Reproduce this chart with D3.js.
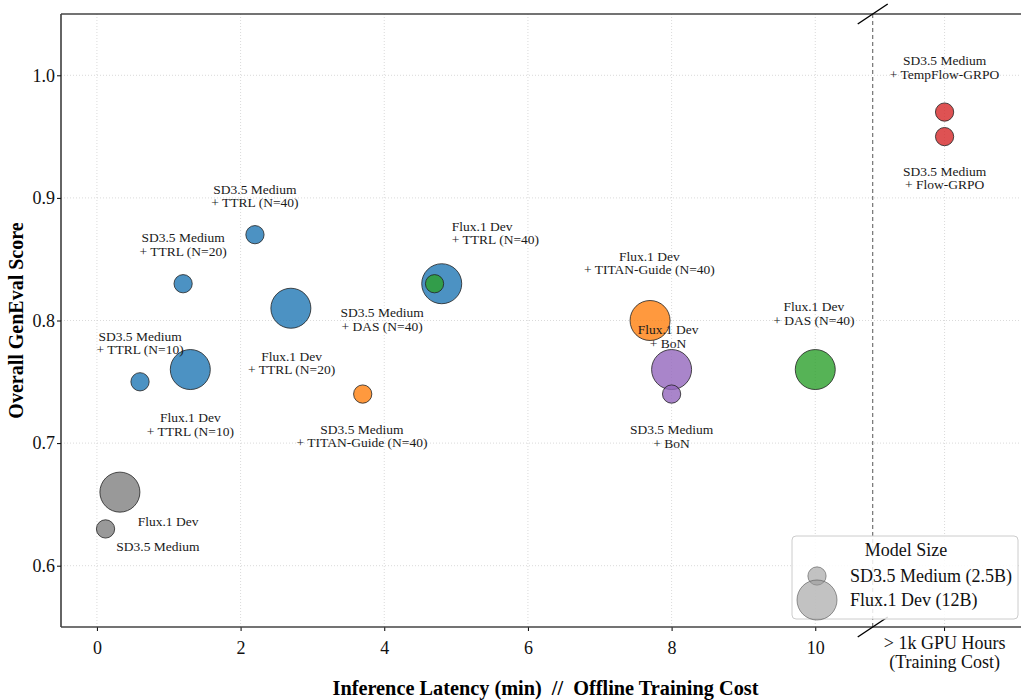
<!DOCTYPE html>
<html>
<head>
<meta charset="utf-8">
<script src="https://cdn.jsdelivr.net/npm/d3@7"></script>
<style>
  body { margin: 0; background: #fff; }
  text { font-family: "Liberation Serif", "DejaVu Serif", serif; }
</style>
</head>
<body>
<div id="chart"></div>
<script>
// Data
const modelNames = ["SD3.5 Medium", "Flux.1 Dev"];
const modelParams = [2.5, 12];            // billions of params -> bubble area
const methodNames = ["base", "ttrl", "titan", "bon", "das", "grpo"];
const methodColors = ["#7f7f7f", "#1f77b4", "#ff7f0e", "#9467bd", "#2ca02c", "#d62728"];

// one entry per bubble, drawn in this order
const pointModel  = [0, 1, 0, 1, 0, 1, 0, 1, 0, 1, 1, 0, 1, 0, 0, 0];
const pointMethod = ["base", "base", "ttrl", "ttrl", "ttrl", "ttrl", "ttrl", "ttrl",
                     "titan", "titan", "bon", "bon", "das", "das", "grpo", "grpo"];
const pointX = [0.12, 0.32, 0.6, 1.3, 1.2, 2.7, 2.2, 4.8, 3.7, 7.7, 8.0, 8.0, 10.0, 4.7, 11.8, 11.8];
const pointY = [0.63, 0.66, 0.75, 0.76, 0.83, 0.81, 0.87, 0.83, 0.74, 0.80, 0.76, 0.74, 0.76, 0.83, 0.97, 0.95];
const pointText = [
  "SD3.5 Medium", "Flux.1 Dev",
  "SD3.5 Medium\n+ TTRL (N=10)", "Flux.1 Dev\n+ TTRL (N=10)",
  "SD3.5 Medium\n+ TTRL (N=20)", "Flux.1 Dev\n+ TTRL (N=20)",
  "SD3.5 Medium\n+ TTRL (N=40)", "Flux.1 Dev\n+ TTRL (N=40)",
  "SD3.5 Medium\n+ TITAN-Guide (N=40)", "Flux.1 Dev\n+ TITAN-Guide (N=40)",
  "Flux.1 Dev\n+ BoN", "SD3.5 Medium\n+ BoN",
  "Flux.1 Dev\n+ DAS (N=40)", "SD3.5 Medium\n+ DAS (N=40)",
  "SD3.5 Medium\n+ TempFlow-GRPO", "SD3.5 Medium\n+ Flow-GRPO"
];

// annotation placement (data coords, like matplotlib annotate)
const labelX = [0.85, 0.99, 0.6, 1.3, 1.2, 2.71, 2.2, 4.94, 3.69, 7.69, 7.95, 8.0, 9.98, 3.97, 11.8, 11.8];
const labelY = [0.616, 0.636, 0.782, 0.7155, 0.862, 0.7655, 0.9016, 0.8714, 0.706, 0.847, 0.787, 0.7056, 0.806, 0.8008, 1.0065, 0.9163];
const labelAnchor = ["middle", "middle", "middle", "middle", "middle", "middle", "middle", "start",
                     "middle", "middle", "middle", "middle", "middle", "middle", "middle", "middle"];

const xTicks = [0, 2, 4, 6, 8, 10];
const trainingX = 11.8;
const trainingLabel = ["> 1k GPU Hours", "(Training Cost)"];
const breakX = 10.8;
const yTicks = [0.6, 0.7, 0.8, 0.9, 1.0];

const W = 1021, H = 700;
const plot = {left: 61, right: 1020, top: 14, bottom: 627};

const svg = d3.select("#chart").append("svg")
  .attr("width", W).attr("height", H);

const xScale = d3.scaleLinear().domain([-0.5, 12.85]).range([plot.left, plot.right]);
const yScale = d3.scaleLinear().domain([0.55, 1.05]).range([plot.bottom, plot.top]);
const rScale = d3.scaleSqrt().domain([0, 12]).range([0, 20]);
const cScale = d3.scaleOrdinal().domain(methodNames).range(methodColors);

// grid
const grid = svg.append("g").attr("stroke", "#d0d0d0").attr("stroke-width", 0.8)
  .attr("stroke-dasharray", "1,2");
grid.selectAll("line.gx").data(xTicks.concat([trainingX])).join("line")
  .attr("x1", d => xScale(d)).attr("x2", d => xScale(d))
  .attr("y1", plot.top).attr("y2", plot.bottom);
grid.selectAll("line.gy").data(yTicks).join("line").attr("class", "gy")
  .attr("x1", plot.left).attr("x2", plot.right)
  .attr("y1", d => yScale(d)).attr("y2", d => yScale(d));

// dashed separator between latency and training cost
svg.append("line")
  .attr("x1", xScale(breakX)).attr("x2", xScale(breakX))
  .attr("y1", plot.top).attr("y2", plot.bottom)
  .attr("stroke", "#555").attr("stroke-width", 1).attr("stroke-dasharray", "4,3");

// axes
const xAxis = d3.axisBottom(xScale).tickValues(xTicks).tickSize(4).tickFormat(d3.format("d"));
const gx = svg.append("g").attr("transform", `translate(0,${plot.bottom})`).call(xAxis);
gx.select(".domain").remove();
gx.selectAll("text").attr("font-size", 18).attr("fill", "#111").attr("dy", "1.1em");

// training tick
gx.append("line").attr("x1", xScale(trainingX)).attr("x2", xScale(trainingX))
  .attr("y1", 0).attr("y2", 4).attr("stroke", "#000");
gx.append("text").attr("x", xScale(trainingX)).attr("text-anchor", "middle")
  .attr("font-size", 18).attr("fill", "#111")
  .selectAll("tspan").data(trainingLabel).join("tspan")
  .attr("x", xScale(trainingX)).attr("y", (d, i) => 22 + i * 18.5)
  .text(d => d);

const yAxis = d3.axisLeft(yScale).tickValues(yTicks).tickSize(4).tickFormat(d3.format(".1f"));
const gy = svg.append("g").attr("transform", `translate(${plot.left},0)`).call(yAxis);
gy.select(".domain").remove();
gy.selectAll("text").attr("font-size", 18).attr("fill", "#111").attr("x", -6);

// spines
svg.append("line").attr("x1", plot.left).attr("x2", plot.left)
  .attr("y1", plot.top).attr("y2", plot.bottom).attr("stroke", "#111").attr("stroke-width", 1.3);
svg.append("line").attr("x1", plot.left).attr("x2", W)
  .attr("y1", plot.bottom).attr("y2", plot.bottom).attr("stroke", "#444").attr("stroke-width", 1.3);
svg.append("line").attr("x1", plot.left).attr("x2", W)
  .attr("y1", plot.top).attr("y2", plot.top).attr("stroke", "#444").attr("stroke-width", 1.3);

// broken-axis marks
[plot.top, plot.bottom].forEach(yy => {
  svg.append("line")
    .attr("x1", xScale(breakX) - 15).attr("y1", yy + 10)
    .attr("x2", xScale(breakX) + 15).attr("y2", yy - 10)
    .attr("stroke", "#000").attr("stroke-width", 1.5);
});

// bubbles
const pts = pointX.map((x, i) => ({
  x, y: pointY[i], model: pointModel[i], method: pointMethod[i]
}));
svg.append("g").selectAll("circle").data(pts).join("circle")
  .attr("cx", d => xScale(d.x)).attr("cy", d => yScale(d.y))
  .attr("r", d => rScale(modelParams[d.model]))
  .attr("fill", d => cScale(d.method)).attr("fill-opacity", 0.8)
  .attr("stroke", "#222").attr("stroke-opacity", 0.8).attr("stroke-width", 1);

// annotations
const fs = 13.5, lh = 13.5;
const ann = svg.append("g").attr("font-size", fs).attr("fill", "#1a1a1a");
pointText.forEach((t, i) => {
  const lines = t.split("\n");
  const cx = xScale(labelX[i]), cy = yScale(labelY[i]);
  const txt = ann.append("text").attr("text-anchor", labelAnchor[i]).style("white-space", "pre");
  lines.forEach((ln, j) => {
    txt.append("tspan").attr("x", cx)
      .attr("y", cy + (j - (lines.length - 1) / 2) * lh + 0.35 * fs)
      .text(ln);
  });
});

// axis titles
svg.append("text").attr("x", (plot.left + plot.right) / 2 + 5).attr("y", 695)
  .attr("text-anchor", "middle").attr("font-size", 20.3).attr("font-weight", "bold")
  .style("white-space", "pre")
  .text("Inference Latency (min)  //  Offline Training Cost");
svg.append("text").attr("transform", `translate(23,${(plot.top + plot.bottom) / 2}) rotate(-90)`)
  .attr("text-anchor", "middle").attr("font-size", 20).attr("font-weight", "bold")
  .text("Overall GenEval Score");

// legend
const legend = svg.append("g").attr("transform", "translate(792,536)");
legend.append("rect").attr("width", 226).attr("height", 83).attr("rx", 4)
  .attr("fill", "#fff").attr("fill-opacity", 0.85).attr("stroke", "#ccc");
legend.append("text").attr("x", 114).attr("y", 20).attr("text-anchor", "middle")
  .attr("font-size", 18).attr("fill", "#111").text("Model Size");
modelNames.forEach((m, i) => {
  const yy = 40 + i * 24;
  legend.append("circle").attr("cx", 25).attr("cy", yy).attr("r", rScale(modelParams[i]))
    .attr("fill", "#9a9a9a").attr("fill-opacity", 0.6)
    .attr("stroke", "#555").attr("stroke-opacity", 0.6);
  legend.append("text").attr("x", 58).attr("y", yy + 6).attr("font-size", 18)
    .attr("fill", "#111").text(`${m} (${modelParams[i]}B)`);
});
</script>
</body>
</html>
